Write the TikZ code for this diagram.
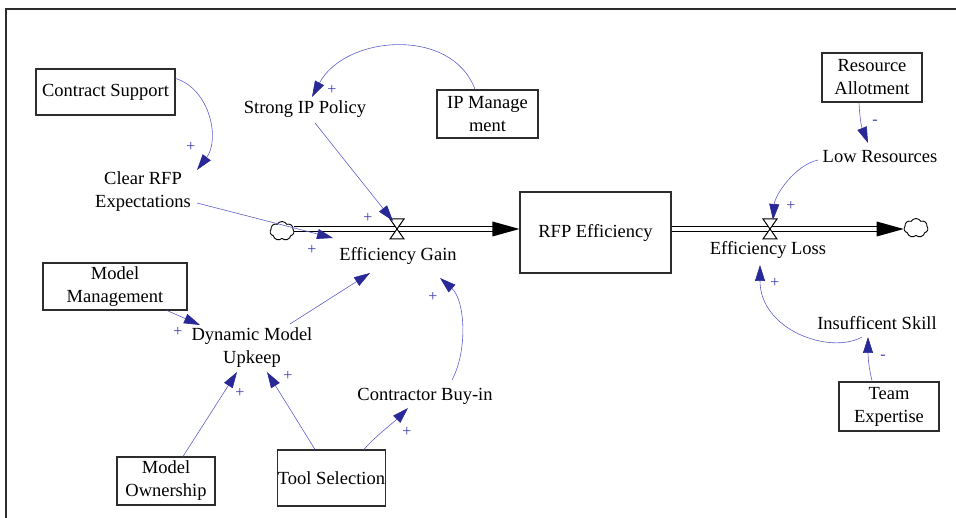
\documentclass[tikz,border=0pt]{standalone}
\usepackage{fontspec}
\setmainfont{Liberation Serif}
\usetikzlibrary{arrows.meta,shapes.symbols,calc}

\definecolor{linkblue}{RGB}{95,95,205}
\definecolor{headblue}{RGB}{40,40,150}
\definecolor{signblue}{RGB}{60,60,180}
\definecolor{boxgray}{RGB}{45,45,45}

\tikzset{
  var/.style={font=\rmfamily\fontsize{18.5}{23}\selectfont, align=center, inner sep=0pt},
  levelbox/.style={var, draw=boxgray, line width=1.1pt},
  link/.style={draw=linkblue, line width=0.6pt,
    -{Triangle[length=16pt,width=10pt,color=headblue]}},
  sign/.style={text=signblue, font=\rmfamily\fontsize{16}{16}\selectfont, inner sep=0pt},
  pipe/.style={draw=black, line width=1.1pt, double=white, double distance=3.4pt},
  valve/.style={draw=black, fill=white, line width=1pt},
  source/.style={cloud, draw=black, line width=0.9pt, fill=white, cloud puffs=7,
    cloud puff arc=120, aspect=1.3, minimum width=24pt, minimum height=19pt, inner sep=0pt}
}

\begin{document}
\begin{tikzpicture}[x=1pt, y=-1pt]
\useasboundingbox (0,0) rectangle (956,518);

% outer frame
\draw[boxgray, line width=1.6pt] (6,518) -- (6,9) -- (956,9);

% boxed variables
\node[levelbox, minimum width=139pt, minimum height=46pt] (cs) at (105.5,92) {Contract Support};
\node[levelbox, minimum width=101pt, minimum height=48pt] (ipm) at (487.5,114) {IP Manage\\ment};
\node[levelbox, minimum width=100pt, minimum height=49pt] (ra) at (872,77.5) {Resource\\Allotment};
\node[levelbox, minimum width=151pt, minimum height=81pt] (rfp) at (595.5,232.5) {RFP Efficiency};
\node[levelbox, minimum width=144pt, minimum height=47pt] (mm) at (115,286.5) {Model\\Management};
\node[levelbox, minimum width=98pt, minimum height=48pt] (mo) at (166,481) {Model\\Ownership};
\node[levelbox, minimum width=107pt, minimum height=56pt] (ts) at (331.5,478) {Tool Selection};
\node[levelbox, minimum width=100pt, minimum height=49pt] (te) at (889,406.5) {Team\\Expertise};

% auxiliary variables
\node[var] (crfp) at (143,192) {Clear RFP\\Expectations};
\node[var] (sip) at (305,109) {Strong IP Policy};
\node[var] (lr) at (880,157) {Low Resources};
\node[var] (eg) at (398,256) {Efficiency Gain};
\node[var] (el) at (768,250) {Efficiency Loss};
\node[var] (dmu) at (252,348) {Dynamic Model\\Upkeep};
\node[var] (cbi) at (425,396) {Contractor Buy-in};
\node[var] (is) at (877,323) {Insufficent Skill};

% flows: sources, pipes and valves
\node[source] (cloudL) at (282,231) {};
\node[source] (cloudR) at (916,228) {};
\coordinate (vl) at (397,229);
\coordinate (vr) at (770,229);

\draw[pipe] (cloudL.east |- vl) -- ($(rfp.west |- vl)+(-26,0)$);
\fill ($(rfp.west |- vl)$) -- ++(-27,-7.5) -- ++(0,15) -- cycle;
\draw[pipe] (rfp.east |- vr) -- ($(cloudR.west |- vr)+(-26,0)$);
\fill ($(cloudR.west |- vr)$) -- ++(-27,-7.5) -- ++(0,15) -- cycle;

\draw[valve] ($(vl)+(-7,-10)$) -- ++(14,0) -- ++(-14,20) -- ++(14,0) -- cycle;
\draw[valve] ($(vr)+(-7,-10)$) -- ++(14,0) -- ++(-14,20) -- ++(14,0) -- cycle;

% causal links
\draw[link] ($(ipm.north)+(-12.5,0)$) .. controls +(-23,-63) and +(33,-62) .. ($(sip.center)+(7,-12)$);
\draw[link] ($(cs.north east)+(0,10)$) .. controls +(35,11) and +(23,-30) .. ($(crfp.center)+(54,-22)$);
\draw[link] ($(sip.center)+(10,14)$) -- ($(vl)+(-4,-8)$);
\draw[link] ($(crfp.center)+(54,11)$) -- ($(eg.center)+(-65,-18)$);
\draw[link] ($(ra.south)+(-13,0)$) .. controls +(1,20) and +(-6,-15) .. ($(lr.center)+(-12,-14)$);
\draw[link] ($(lr.center)+(-62,3)$) .. controls +(-23,5) and +(2,-25) .. ($(vr)+(3,-9)$);
\draw[link] ($(is.center)+(-15,14)$) .. controls +(-32,18) and +(0,65) .. ($(el.center)+(-8,15)$);
\draw[link] ($(te.north)+(-17,-1)$) .. controls +(-4,-15) and +(0,15) .. ($(is.center)+(-9,14)$);
\draw[link] ($(mm.south)+(52,0)$) -- ($(dmu.center)+(-52,-23)$);
\draw[link] ($(dmu.center)+(38,-24)$) -- ($(eg.center)+(-28,17)$);
\draw[link] ($(cbi.center)+(27,-16)$) .. controls +(16,-30) and +(25,22) .. ($(eg.center)+(42,22)$);
\draw[link] ($(mo.north)+(17,0)$) -- ($(dmu.center)+(-15,24)$);
\draw[link] ($(ts.north)+(-16.5,0)$) -- ($(dmu.center)+(15,24)$);
\draw[link] ($(ts.north)+(32.5,0)$) .. controls +(10,-12) and +(-15,15) .. ($(cbi.center)+(-17,12)$);

% link polarities
\node[sign] (s1) at (332,90) {+};
\node[sign] (s2) at (191,147) {+};
\node[sign] (s3) at (368,218) {+};
\node[sign] (s4) at (312,250) {+};
\node[sign] (s5) at (875,122) {-};
\node[sign] (s6) at (791,206) {+};
\node[sign] (s7) at (775,283) {+};
\node[sign] (s8) at (883,357) {-};
\node[sign] (s9) at (178,332) {+};
\node[sign] (s10) at (433,297) {+};
\node[sign] (s11) at (240,393) {+};
\node[sign] (s12) at (288,376) {+};
\node[sign] (s13) at (407,432) {+};
\end{tikzpicture}
\end{document}
